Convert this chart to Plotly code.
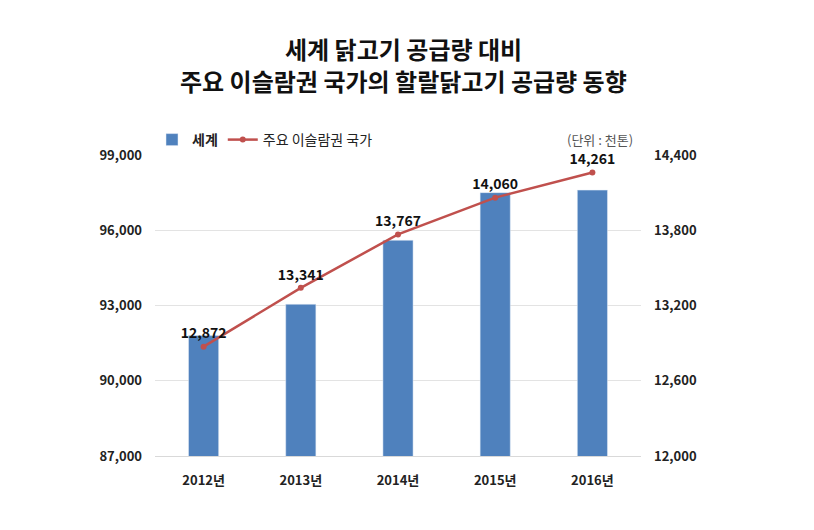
import plotly.graph_objects as go

years = ["2012년", "2013년", "2014년", "2015년", "2016년"]
world = [91800, 93050, 95600, 97500, 97600]
islam = [12872, 13341, 13767, 14060, 14261]
left_ticks = [87000, 90000, 93000, 96000, 99000]
right_ticks = [12000, 12600, 13200, 13800, 14400]

FONT = "Noto Sans CJK KR"
OFF = 8  # page body margin
W, H = 814 - OFF, 530 - OFF
L, R, T, B = 147, 173, 147, 74
pw, ph = W - L - R, H - T - B


def px(page_x):
    return ((page_x - OFF) - L) / pw


def py(page_y):
    return (H - B - (page_y - OFF)) / ph


fig = go.Figure()
fig.add_trace(go.Bar(
    x=years, y=world, name="<b>세계</b>", marker_color="#4f81bd",
    width=0.31, yaxis="y",
))
fig.add_trace(go.Scatter(
    x=years, y=islam, name="주요 이슬람권 국가", yaxis="y2",
    mode="lines+markers+text",
    line=dict(color="#c0504d", width=2.5),
    marker=dict(color="#c0504d", size=6),
    text=[f"<b>{v:,}</b>" for v in islam],
    textposition="top center",
    textfont=dict(family=FONT, size=14, color="#111111"),
    cliponaxis=False,
))

tickfont = dict(family=FONT, size=13, color="#222222", weight="bold")
fig.update_layout(
    width=W, height=H,
    margin=dict(l=L, r=R, t=T, b=B, pad=0),
    paper_bgcolor="white", plot_bgcolor="white",
    font=dict(family=FONT, color="#222222"),
    xaxis=dict(
        type="category", showgrid=False, showline=True, linecolor="#d9d9d9",
        tickfont=tickfont, ticks="", ticklabelstandoff=12,
    ),
    yaxis=dict(
        range=[87000, 99000], tickvals=left_ticks,
        ticktext=[f"{v:,}" for v in left_ticks],
        showgrid=True, gridcolor="#e3e3e3", gridwidth=1, zeroline=False,
        tickfont=tickfont, ticklabelstandoff=12,
    ),
    yaxis2=dict(
        range=[12000, 14400], tickvals=right_ticks,
        ticktext=[f"{v:,}" for v in right_ticks],
        overlaying="y", side="right", showgrid=False, zeroline=False,
        tickfont=tickfont, ticklabelstandoff=12,
    ),
    legend=dict(
        orientation="h", x=px(152), y=py(140),
        xanchor="left", yanchor="middle",
        font=dict(family=FONT, size=14, color="#222222"),
        bgcolor="rgba(0,0,0,0)", itemwidth=30, tracegroupgap=0,
    ),
    showlegend=True,
)

title_lines = ["세계 닭고기 공급량 대비", "주요 이슬람권 국가의 할랄닭고기 공급량 동향"]
for line, yy in zip(title_lines, [49, 81]):
    fig.add_annotation(
        text=f"<b>{line}</b>", xref="paper", yref="paper",
        x=px(403), y=py(yy), xanchor="center", yanchor="middle",
        showarrow=False, font=dict(family=FONT, size=24, color="#111111"),
    )

fig.add_annotation(
    text="(단위 : 천톤)", xref="paper", yref="paper",
    x=px(635), y=py(139), xanchor="right", yanchor="middle",
    showarrow=False, font=dict(family=FONT, size=13, color="#555555"),
)

fig.write_html("out.html")
